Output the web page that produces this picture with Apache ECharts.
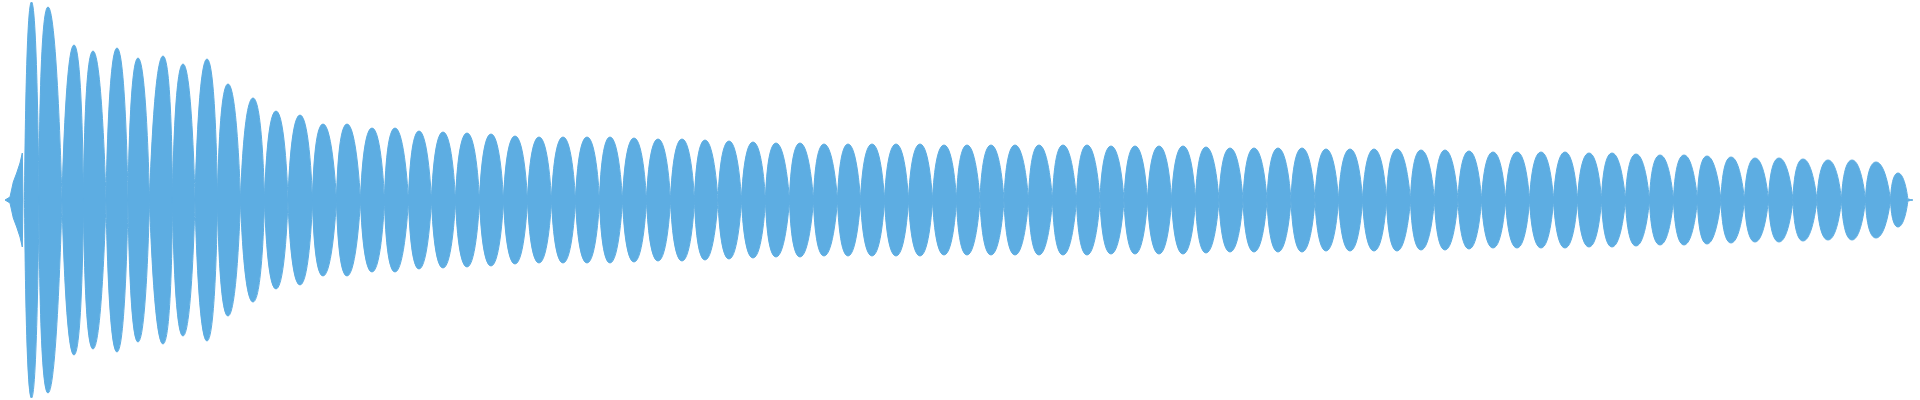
<!DOCTYPE html>
<html>
<head>
<meta charset="utf-8">
<title>waveform</title>
<script src="https://cdn.jsdelivr.net/npm/echarts@6/dist/echarts.min.js"></script>
<style>
  html, body { margin: 0; padding: 0; background: #fff; }
  #main { width: 1920px; height: 400px; }
</style>
</head>
<body>
<div id="main"></div>
<script>
// onset ramp before the first lobe
var rampX = [5, 10, 13.3, 16.7, 20, 22.3, 23];
var rampAmp = [0, 3, 18, 27, 37, 47, 0];

// zero crossings between lobes (81 values -> 80 lobes)
var edges = [
  24.5, 39, 62, 83.5, 106, 128, 149.5, 172.5, 195, 217.5,
  240.5, 264.5, 288, 312.5, 336.5, 360.5, 384.5, 408.5, 431.5, 455.5,
  479.5, 503.5, 527.5, 551.5, 575.5, 599.5, 622.5, 646.5, 670.5, 694.5,
  718, 741.5, 765.5, 789.5, 813.5, 837.5, 860.5, 884.5, 908.5, 932.5,
  956.5, 980, 1004, 1028.5, 1052.5, 1076.5, 1100, 1124, 1147.5, 1171.5,
  1195.5, 1219, 1243, 1267, 1291, 1315, 1338.5, 1362.5, 1386.5, 1410.5,
  1434.5, 1458, 1481.5, 1505.5, 1529.5, 1553.5, 1577.5, 1601.5, 1625.5, 1649.5,
  1673.5, 1697.5, 1721, 1744.5, 1768.5, 1793, 1817, 1841.5, 1865.5, 1890.5,
  1908
];

// position of each lobe's peak
var peakX = [
  31.5, 48, 74, 93, 117, 138, 163, 183, 207, 228,
  253, 276, 300, 323, 347, 372, 395, 419, 443, 467,
  491, 515, 539, 563, 587, 610, 634, 658, 682, 705,
  729, 753, 776, 800, 824, 848, 872, 896, 920, 944,
  967, 991, 1015, 1039, 1063, 1087, 1111, 1135, 1159, 1183,
  1206, 1230, 1254, 1278, 1302, 1326, 1350, 1374, 1397, 1421,
  1445, 1469, 1493, 1517, 1541, 1565, 1589, 1612, 1636, 1660,
  1684, 1707, 1731, 1755, 1779, 1803, 1828, 1852, 1876, 1898
];

// envelope amplitude of each lobe
var peakAmp = [
  198, 193, 155, 149, 152, 142, 144, 136, 141, 116,
  102, 89, 85, 76, 76, 72, 72, 69, 68, 67,
  66, 64, 63, 63, 63, 63, 62, 61, 61, 60,
  59, 58, 57, 57, 56, 56, 56, 56, 56, 55,
  55, 55, 55, 55, 55, 55, 54, 54, 54, 54,
  53, 52, 52, 52, 52, 51, 51, 51, 51, 50,
  50, 49, 48, 48, 48, 48, 47, 47, 46, 45,
  45, 44, 43, 42, 42, 41, 40, 40, 38, 27
];

// short decay after the last lobe
var tailX = [1908, 1913];
var tailAmp = [1, 0];

var color = '#5DADE2';

function rampData(sign) {
  var out = [];
  for (var i = 0; i < rampX.length; i++) out.push([rampX[i], sign * rampAmp[i]]);
  return out;
}

function lobeData(sign) {
  var out = [];
  for (var k = 0; k < peakX.length; k++) {
    out.push([edges[k], 0]);
    out.push([peakX[k], sign * peakAmp[k]]);
    out.push([edges[k + 1], 0]);
    out.push([edges[k + 1], '-']);
  }
  for (var j = 0; j < tailX.length; j++) out.push([tailX[j], sign * tailAmp[j]]);
  return out;
}

function wave(name, data, smooth) {
  return {
    name: name,
    type: 'line',
    data: data,
    smooth: smooth,
    symbol: 'none',
    connectNulls: false,
    lineStyle: { color: color, width: 1 },
    areaStyle: { color: color, opacity: 1 }
  };
}

var myChart = echarts.init(document.getElementById('main'));

var option = {
  animation: false,
  backgroundColor: '#fff',
  grid: { left: 0, right: 0, top: 0, bottom: 0 },
  xAxis: { type: 'value', min: 0, max: 1920, show: false },
  yAxis: { type: 'value', min: -200, max: 200, show: false },
  series: [
    wave('ramp+', rampData(1), false),
    wave('ramp-', rampData(-1), false),
    wave('upper', lobeData(1), 0.8),
    wave('lower', lobeData(-1), 0.8)
  ]
};

myChart.setOption(option);
</script>
</body>
</html>
